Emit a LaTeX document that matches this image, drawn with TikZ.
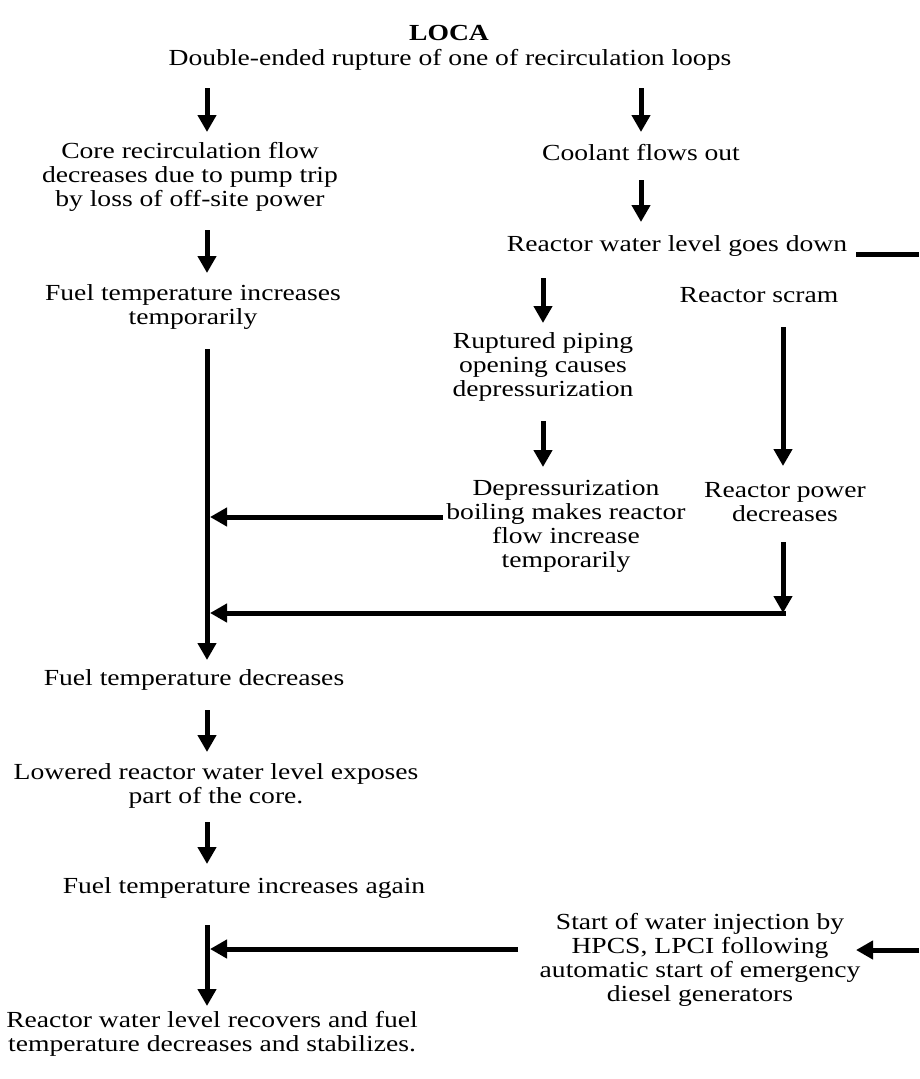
\documentclass[tikz,border=0pt]{standalone}
\usepackage{fontspec}
\setmainfont{Liberation Serif}[FakeStretch=1.2]
\usetikzlibrary{arrows.meta}
\begin{document}
\begin{tikzpicture}[x=1pt,y=-1pt,
  txt/.style={align=center,inner sep=0pt,font=\fontsize{23}{24}\selectfont},
  conn/.style={line width=5pt},
  arr/.style={conn,-{Triangle[length=17pt,width=18pt]}}]
\useasboundingbox (0,0) rectangle (919,1079);
% texts
\node[txt,font=\bfseries\fontsize{23}{24}\selectfont] (loca) at (449,33) {LOCA};
\node[txt] (rupt) at (450,60) {Double-ended rupture of one of recirculation loops};
\node[txt] (core) at (190,177) {Core recirculation flow\\decreases due to pump trip\\by loss of off-site power};
\node[txt] (cool) at (641,153) {Coolant flows out};
\node[txt] (level) at (677,246) {Reactor water level goes down};
\node[txt] (fti) at (193,307) {Fuel temperature increases\\temporarily};
\node[txt] (scram) at (759,295) {Reactor scram};
\node[txt] (pipe) at (543,367) {Ruptured piping\\opening causes\\depressurization};
\node[txt] (boil) at (566,526) {Depressurization\\boiling makes reactor\\flow increase\\temporarily};
\node[txt] (power) at (785,502) {Reactor power\\decreases};
\node[txt] (ftd) at (194,680) {Fuel temperature decreases};
\node[txt] (low) at (216,786) {Lowered reactor water level exposes\\part of the core.};
\node[txt] (fta) at (244,888) {Fuel temperature increases again};
\node[txt] (inj) at (700,960) {Start of water injection by\\HPCS, LPCI following\\automatic start of emergency\\diesel generators};
\node[txt] (rec) at (212,1034) {Reactor water level recovers and fuel\\temperature decreases and stabilizes.};
% connector end points
\coordinate (a1s) at (207,88);  \coordinate (a1e) at (207,132);
\coordinate (a2s) at (641,88);  \coordinate (a2e) at (641,132);
\coordinate (a3s) at (207,230); \coordinate (a3e) at (207,273);
\coordinate (a4s) at (641,180); \coordinate (a4e) at (641,222);
\coordinate (l5s) at (856,254); \coordinate (l5e) at (919,254);
\coordinate (a6s) at (543,278); \coordinate (a6e) at (543,323);
\coordinate (a7s) at (783,327); \coordinate (a7e) at (783,466);
\coordinate (a8s) at (543,421); \coordinate (a8e) at (543,467);
\coordinate (trunkS) at (207,349); \coordinate (trunkE) at (207,660);
\coordinate (j1) at (210,517);  \coordinate (b1) at (443,517);
\coordinate (a11s) at (783,542); \coordinate (a11e) at (783,613);
\coordinate (c11) at (785.5,613); \coordinate (j2) at (210,613);
\coordinate (a12s) at (207,710); \coordinate (a12e) at (207,752);
\coordinate (a13s) at (207,822); \coordinate (a13e) at (207,864);
\coordinate (r14) at (919,950); \coordinate (a14e) at (856,950);
\coordinate (b15) at (518,949); \coordinate (j3) at (210,949);
\coordinate (a16s) at (207,925); \coordinate (a16e) at (207,1006);
% connectors
\draw[arr] (a1s) -- (a1e);
\draw[arr] (a2s) -- (a2e);
\draw[arr] (a3s) -- (a3e);
\draw[arr] (a4s) -- (a4e);
\draw[conn] (l5s) -- (l5e);
\draw[arr] (a6s) -- (a6e);
\draw[arr] (a7s) -- (a7e);
\draw[arr] (a8s) -- (a8e);
\draw[arr] (trunkS) -- (trunkE);
\draw[arr] (b1) -- (j1);
\draw[arr] (a11s) -- (a11e);
\draw[arr] (c11) -- (j2);
\draw[arr] (a12s) -- (a12e);
\draw[arr] (a13s) -- (a13e);
\draw[arr] (r14) -- (a14e);
\draw[arr] (b15) -- (j3);
\draw[arr] (a16s) -- (a16e);
\end{tikzpicture}
\end{document}
